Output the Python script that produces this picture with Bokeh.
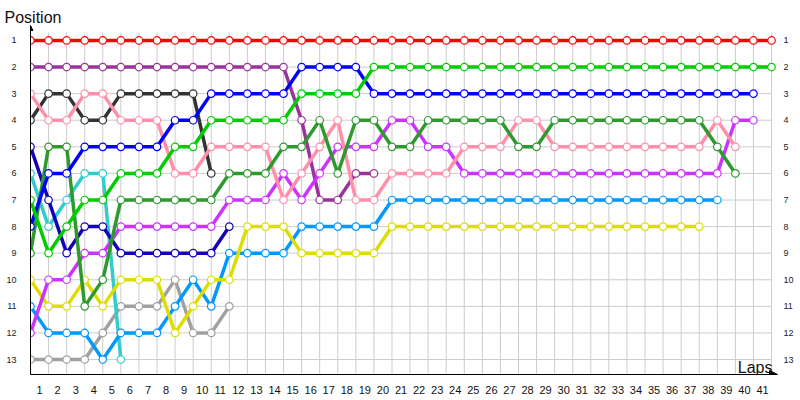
from bokeh.plotting import figure
from bokeh.models import Range1d, LinearAxis, FixedTicker, Label, Arrow, NormalHead, Title
from bokeh.embed import file_html
from bokeh.resources import INLINE

# Lap indices (0 = start grid) and tick labels
laps = list(range(0, 42))
lap_labels = [str(k) for k in range(1, 42)]
positions = list(range(1, 14))

# Positions per lap for each driver (index 0 = start)
red = [1] * 42
purple = [2] * 15 + [4, 7, 7, 6, 6]
pink = [3, 4, 4, 3, 3, 4, 4, 4, 6, 6, 5, 5, 5, 5, 7, 6, 5, 4, 7, 7,
        6, 6, 6, 6, 5, 5, 5, 4, 4, 5, 5, 5, 5, 5, 5, 5, 5, 5, 4, 5]
black = [4, 3, 3, 4, 4, 3, 3, 3, 3, 3, 6]
navy = [5, 7, 9, 8, 8, 9, 9, 9, 9, 9, 9, 8]
blue = [8, 6, 6, 5, 5, 5, 5, 5, 4, 4, 3, 3, 3, 3, 3, 2, 2, 2, 2] + [3] * 22
cyan = [6, 8, 7, 6, 6, 13]
green = [7, 9, 8, 7, 7, 6, 6, 6, 5, 5, 4, 4, 4, 4, 4, 3, 3, 3, 3] + [2] * 23
darkgreen = [9, 5, 5, 11, 10, 7, 7, 7, 7, 7, 7, 6, 6, 6, 5, 5, 4, 6, 4, 4,
             5, 5, 4, 4, 4, 4, 4, 5, 5, 4, 4, 4, 4, 4, 4, 4, 4, 4, 5, 6]
yellow = [10, 11, 11, 10, 11, 10, 10, 10, 12, 11, 10, 10, 8, 8, 8,
          9, 9, 9, 9, 9] + [8] * 18
lightblue = [11, 12, 12, 12, 13, 12, 12, 12, 11, 10, 11, 9, 9, 9, 9,
             8, 8, 8, 8, 8] + [7] * 19
violet = [12, 10, 10, 9, 9, 8, 8, 8, 8, 8, 8, 7, 7, 7, 6, 7, 6, 5, 5, 5,
          4, 4, 5, 5] + [6] * 15 + [4, 4]
gray = [13, 13, 13, 13, 12, 11, 11, 11, 10, 12, 12, 11]

series = [
    (gray, "#a0a0a0"),
    (cyan, "#33cccc"),
    (navy, "#1400b8"),
    (black, "#333333"),
    (purple, "#993399"),
    (lightblue, "#0099ff"),
    (yellow, "#dddd00"),
    (violet, "#cc33ff"),
    (pink, "#ff8fab"),
    (darkgreen, "#2e9a2e"),
    (blue, "#0000ff"),
    (green, "#00cc00"),
    (red, "#ff0000"),
]

FONT = "Liberation Sans"

p = figure(width=796, height=396,
           x_range=Range1d(0, 41.33), y_range=Range1d(13.5625, 0.4375),
           output_backend="svg", toolbar_location=None,
           x_axis_location=None, y_axis_location=None,
           min_border_left=30, min_border_right=18,
           min_border_top=25, min_border_bottom=21)
p.outline_line_color = None
p.xgrid.visible = False
p.ygrid.visible = False

p.title = Title(text="Position", align="left", offset=-26, standoff=0,
                text_font=FONT, text_font_size="16px", text_font_style="normal",
                text_color="#111111")

# grid lines
grid_laps = laps[1:]
p.segment(x0=grid_laps, y0=[0.7] * len(grid_laps), x1=grid_laps,
          y1=[13.5625] * len(grid_laps), line_color="#cccccc", line_width=1)
p.segment(x0=[0] * len(positions), y0=positions, x1=[laps[-1]] * len(positions),
          y1=positions, line_color="#cccccc", line_width=1)

for vals, col in series:
    xs = laps[:len(vals)]
    p.line(xs, vals, line_color=col, line_width=3.5)
    p.scatter(xs, vals, size=7.5, fill_color="white", line_color=col, line_width=1.2)

# axes
xa = LinearAxis(ticker=FixedTicker(ticks=[k - 0.5 for k in range(1, 42)]),
                major_label_overrides={k - 0.5: lab for k, lab in zip(range(1, 42), lap_labels)})
xa.axis_line_color = "black"
xa.major_tick_line_color = None
xa.minor_tick_line_color = None
xa.major_label_standoff = 5
xa.major_label_text_font = FONT
xa.major_label_text_font_size = "11px"
xa.major_label_text_color = "#111111"
p.add_layout(xa, "below")

ya = LinearAxis(ticker=FixedTicker(ticks=positions))
ya.axis_line_color = "black"
ya.major_tick_line_color = None
ya.minor_tick_line_color = None
ya.major_label_standoff = 8
ya.major_label_text_font = FONT
ya.major_label_text_font_size = "9px"
ya.major_label_text_color = "#222222"
p.add_layout(ya, "left")

ra = LinearAxis(ticker=FixedTicker(ticks=positions))
ra.axis_line_color = None
ra.major_tick_line_color = None
ra.minor_tick_line_color = None
ra.major_label_standoff = 0
ra.major_label_text_font = FONT
ra.major_label_text_font_size = "9px"
ra.major_label_text_color = "#222222"
p.add_layout(ra, "right")

# axis arrows
p.add_layout(Arrow(end=NormalHead(size=8, fill_color="black", line_color="black"),
                   x_start=40.8, y_start=13.5625, x_end=41.33, y_end=13.5625,
                   line_color="black", line_width=1))
p.add_layout(Arrow(end=NormalHead(size=5, fill_color="black", line_color="black"),
                   x_start=0, y_start=0.6, x_end=0, y_end=0.4375,
                   line_color="black", line_width=1))

# x axis title inside the plot area
p.add_layout(Label(x=41.05, y=13.3, text="Laps", text_font=FONT,
                   text_font_size="16px", text_color="#111111",
                   text_baseline="alphabetic", text_align="right"))

open("out.html", "w").write(file_html(p, INLINE))
